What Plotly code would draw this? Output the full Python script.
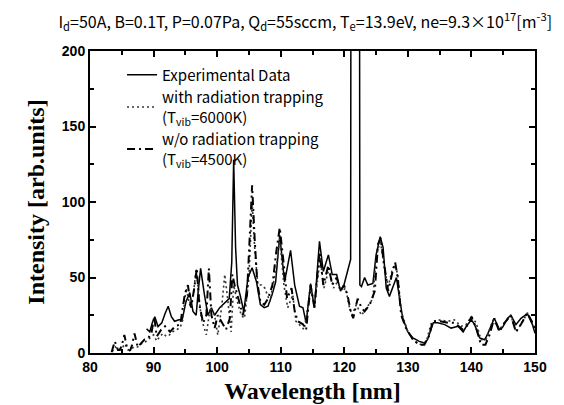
import plotly.graph_objects as go

# Experimental Data (solid)
experimental = [
    (88.9, 16), (89.4, 14), (89.8, 20), (90.2, 24), (90.7, 17.5), (91.3, 20), (91.8, 26),
    (92.3, 31), (92.8, 24), (93.3, 21), (94.0, 22), (94.5, 22), (95.1, 34), (95.7, 40),
    (96.2, 27.5), (96.7, 25), (97.0, 40), (97.4, 56), (98.0, 38.6), (98.55, 25), (99.1, 30),
    (99.6, 25), (100.4, 30), (101.2, 33), (101.9, 36), (102.3, 60), (102.6, 128), (102.9, 70),
    (103.2, 45), (103.6, 38.6), (104.2, 27.5), (104.85, 50), (105.5, 56.5), (106.2, 47),
    (106.8, 32), (107.4, 30), (108.0, 31), (108.6, 38), (109.2, 47), (109.85, 78), (110.6, 47),
    (111.55, 68), (112.2, 45), (112.95, 31), (113.5, 30), (114.0, 20), (114.7, 46), (115.3, 30),
    (116.1, 74), (116.7, 54), (117.5, 65), (118.1, 52), (118.8, 52), (119.4, 41), (119.95, 45),
    (120.5, 54), (121.0, 62), (121.7, 3000), (122.45, 45), (122.7, 44), (123.2, 50), (123.7, 45),
    (124.5, 46), (125.0, 65), (125.65, 77), (126.1, 70), (126.6, 43), (127.1, 37.5), (127.6, 43),
    (128.2, 50), (128.7, 36), (129.2, 23), (130.0, 14), (130.8, 10), (131.8, 7.7), (132.6, 6.6),
    (133.1, 8.8), (133.7, 16.5), (134.0, 20), (134.7, 20), (135.8, 18.8), (136.8, 16.5),
    (137.9, 17.7), (138.7, 14), (139.2, 17.7), (140.0, 22), (140.5, 18.8), (141.3, 10),
    (142.1, 8.8), (142.6, 13), (143.6, 23), (144.4, 15.5), (144.9, 17), (145.7, 23), (146.2, 25),
    (147.0, 18.8), (147.8, 23), (148.8, 26), (149.6, 18.8), (150.0, 13),
]

# with radiation trapping (Tvib=6000K), dotted
with_trapping = [
    (83.5, 1), (84.0, 4), (84.5, 2), (85.0, 3), (85.5, 6), (86.0, 2), (86.5, 3), (87.0, 4),
    (87.5, 4), (88.0, 6), (88.6, 7), (89.4, 10), (90.0, 12), (90.5, 8), (91.0, 11), (91.5, 13),
    (92.0, 11), (92.5, 12), (93.0, 14), (93.5, 15), (94.2, 17), (94.6, 22), (95.1, 43),
    (95.8, 30), (96.3, 40), (96.7, 56), (97.1, 38), (97.5, 23), (98.3, 12), (98.9, 30),
    (99.6, 25), (100.1, 12), (100.7, 30), (101.2, 52), (101.7, 34), (102.2, 14), (102.6, 45),
    (103.1, 35), (103.8, 25), (104.3, 23), (105.0, 50), (105.5, 100), (105.9, 70), (106.4, 45),
    (107.0, 45), (107.5, 43), (108.3, 34), (109.3, 56), (109.85, 76), (110.5, 45), (111.1, 30),
    (111.9, 38.6), (112.4, 21), (113.2, 17.7), (113.7, 15.5), (114.7, 43), (115.3, 30),
    (116.2, 63), (116.8, 43), (117.6, 56), (118.3, 43), (118.9, 47), (119.7, 41), (120.2, 43),
    (120.7, 32), (121.2, 25), (121.9, 32), (122.7, 25), (123.5, 30), (124.5, 36), (125.0, 63),
    (125.65, 75), (126.3, 56), (126.9, 44), (127.6, 56), (128.0, 58.5), (128.4, 52),
    (128.95, 27.6), (130.0, 14), (131.05, 7.7), (132.1, 5.5), (132.9, 7.7), (133.7, 20),
    (134.7, 22), (136.3, 21), (137.3, 22), (138.4, 17.7), (139.2, 19), (140.0, 24), (140.75, 20),
    (141.5, 8.8), (142.3, 8.8), (143.4, 22), (144.4, 15.5), (145.2, 20), (146.2, 25), (147.0, 14),
    (147.8, 19), (148.8, 26.5), (149.6, 20), (150.0, 15.5),
]

# w/o radiation trapping (Tvib=4500K), dash-dot
without_trapping = [
    (83.4, 0.5), (83.9, 7.7), (84.4, 2), (84.7, 2), (85.0, 5), (85.4, 12), (85.8, 4), (86.3, 1.5),
    (86.6, 5), (87.0, 13), (87.5, 4), (88.0, 6), (88.6, 9), (89.2, 10), (89.7, 14), (90.1, 24),
    (90.5, 11), (91.2, 15.5), (91.8, 17.7), (92.6, 14), (93.4, 17.7), (94.2, 19), (94.9, 38.6),
    (95.4, 45), (95.9, 30), (96.4, 43), (96.8, 56), (97.2, 32), (97.8, 20), (98.3, 25),
    (98.7, 56), (99.1, 25), (99.6, 16.5), (100.1, 25), (100.65, 21), (101.4, 15.5), (102.0, 23),
    (102.4, 52), (102.75, 45), (103.3, 36), (104.05, 25), (104.7, 38.6), (105.1, 78), (105.5, 111),
    (105.9, 76), (106.3, 47), (106.8, 34), (107.4, 32), (108.0, 36), (108.7, 45), (109.3, 67),
    (109.85, 83), (110.5, 58), (111.0, 36), (111.7, 43), (112.2, 27.6), (112.7, 21), (113.5, 19),
    (114.0, 15.5), (114.7, 45), (115.3, 30), (116.1, 67), (116.7, 45), (117.5, 58), (118.1, 45),
    (118.8, 50), (119.4, 41), (119.95, 45), (120.5, 38.6), (121.0, 27.6), (121.4, 23), (122.1, 36),
    (122.7, 30), (123.2, 27.6), (124.0, 32), (124.8, 41), (125.3, 72), (125.7, 76), (126.2, 61),
    (126.9, 41), (127.6, 54), (128.0, 60), (128.4, 50), (128.95, 25), (129.7, 16.5), (130.8, 8.8),
    (131.8, 5.5), (132.6, 5.5), (133.4, 12), (133.9, 21), (135.0, 21), (136.3, 20), (137.3, 20),
    (138.65, 15.5), (139.3, 18), (140.0, 24), (140.75, 16.5), (141.5, 5.5), (142.2, 5.5),
    (142.85, 12), (143.6, 23), (144.4, 14), (145.2, 20), (146.2, 25), (147.0, 14), (147.8, 19),
    (148.8, 26.5), (149.6, 20), (150.0, 15.5),
]

x_ticks = [80, 90, 100, 110, 120, 130, 140, 150]
y_ticks = [0, 50, 100, 150, 200]

legend_font = "Noto Sans CJK JP"
fig = go.Figure()
series = [
    (experimental, "Experimental Data", dict(color="black", width=1.5, dash="solid")),
    (with_trapping, "with radiation trapping<br>(T<sub>vib</sub>=6000K)",
     dict(color="#333333", width=1.6, dash="2px,3px")),
    (without_trapping, "w/o radiation trapping<br>(T<sub>vib</sub>=4500K)",
     dict(color="black", width=2, dash="8px,4px,2px,4px")),
]
for data, name, line in series:
    fig.add_trace(go.Scatter(
        x=[p[0] for p in data], y=[p[1] for p in data], mode="lines", name=name, line=line,
    ))

axis_common = dict(
    showline=True, linecolor="black", linewidth=2, mirror="ticks",
    ticks="inside", ticklen=6, tickwidth=1.5, tickcolor="black",
    showgrid=False, zeroline=False,
    tickfont=dict(family="Liberation Sans", size=14, color="black", weight="bold"),
)
fig.update_xaxes(
    range=[80, 150], tickvals=x_ticks, ticktext=[f"<b>{v}</b>" for v in x_ticks],
    minor=dict(dtick=5, ticks="inside", ticklen=4, tickwidth=1.5, tickcolor="black", showgrid=False),
    title=dict(text="<b>Wavelength [nm]</b>", font=dict(family="Liberation Serif", size=24, color="black"), standoff=8),
    **axis_common,
)
fig.update_yaxes(
    range=[0, 200], tickvals=y_ticks, ticktext=[f"<b>{v}</b>" for v in y_ticks],
    minor=dict(dtick=25, ticks="inside", ticklen=4, tickwidth=1.5, tickcolor="black", showgrid=False),
    title=dict(text="<b>Intensity [arb.units]</b>", font=dict(family="Liberation Serif", size=24, color="black"), standoff=10),
    **axis_common,
)
fig.update_layout(
    width=564, height=405,
    margin=dict(l=82, r=37, t=43, b=60, autoexpand=False),
    paper_bgcolor="white", plot_bgcolor="white",
    title=dict(
        text="I<sub>d</sub>=50A, B=0.1T, P=0.07Pa, Q<sub>d</sub>=55sccm, T<sub>e</sub>=13.9eV, ne=9.3×10<sup>17</sup>[m<sup>-3</sup>]",
        font=dict(family=legend_font, size=16, color="black"),
        x=0.527, xref="container", xanchor="center", y=0.965, yref="container", yanchor="middle",
    ),
    legend=dict(
        x=0.072, y=0.975, xanchor="left", yanchor="top", bgcolor="rgba(0,0,0,0)",
        font=dict(family=legend_font, size=15, color="black"), tracegroupgap=0,
    ),
    showlegend=True,
)
fig.write_html("out.html")
